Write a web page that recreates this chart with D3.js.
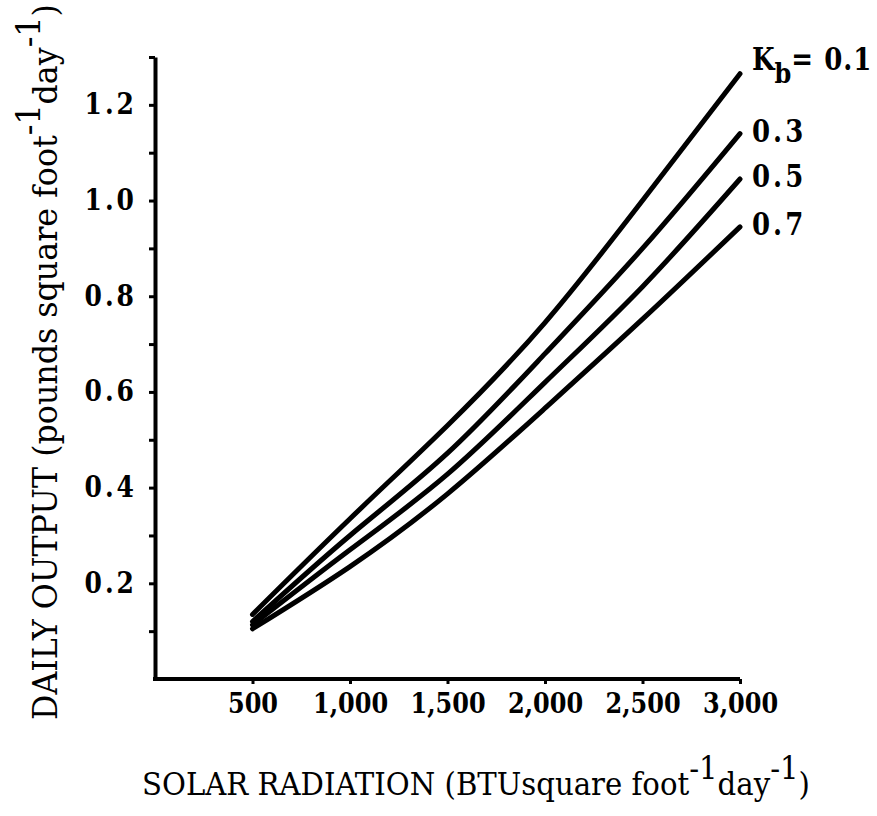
<!DOCTYPE html>
<html>
<head>
<meta charset="utf-8">
<script src="https://cdn.jsdelivr.net/npm/d3@7"></script>
<style>
  html, body { margin: 0; padding: 0; background: #fff; }
  svg { display: block; }
  text { font-family: "DejaVu Serif", "Liberation Serif", serif; fill: #000; }
</style>
</head>
<body>
<svg id="chart" width="877" height="816"></svg>
<script>
// ---- data ----
const radiation = [500, 1000, 1500, 2000, 2500, 3000];
const kbLabels = ["0.1", "0.3", "0.5", "0.7"];
const outputKb01 = [0.135, 0.335, 0.530, 0.745, 1.000, 1.265];
const outputKb03 = [0.120, 0.300, 0.472, 0.680, 0.900, 1.140];
const outputKb05 = [0.113, 0.270, 0.428, 0.620, 0.820, 1.045];
const outputKb07 = [0.105, 0.235, 0.387, 0.566, 0.752, 0.945];
const xTickValues = [500, 1000, 1500, 2000, 2500, 3000];
const xTickLabels = ["500", "1,000", "1,500", "2,000", "2,500", "3,000"];
const yTickValues = [0.2, 0.4, 0.6, 0.8, 1.0, 1.2];
const yTickLabels = ["0.2", "0.4", "0.6", "0.8", "1.0", "1.2"];
const yMinorTicks = [0.1, 0.2, 0.3, 0.4, 0.5, 0.6, 0.7, 0.8, 0.9, 1.0, 1.1, 1.2, 1.3];

const seriesList = [outputKb01, outputKb03, outputKb05, outputKb07];
const STRETCH = 1.2; // reference glyphs are taller than DejaVu's

const svg = d3.select("#chart");
const x = d3.scaleLinear().domain([0, 3000]).range([155, 740]);
const y = d3.scaleLinear().domain([0, 1.3]).range([679, 57]);

// y axis: minor ticks outward (left)
const yAxis = svg.append("g").attr("transform", `translate(${x(0)},0)`)
  .call(d3.axisLeft(y).tickValues(yMinorTicks).tickSize(6).tickSizeOuter(0).tickFormat(""));
yAxis.select(".domain").attr("stroke-width", 4).attr("stroke", "#000");
yAxis.selectAll(".tick line").attr("stroke-width", 3);

// y tick labels to the left of the axis
const yLab = svg.append("g").attr("transform", `translate(${x(0)},0)`)
  .call(d3.axisLeft(y).tickValues(yTickValues).tickSize(0).tickPadding(18)
    .tickFormat((d, i) => yTickLabels[i]));
yLab.select(".domain").remove();
yLab.selectAll("text").style("font-size", "25px").style("font-weight", "bold")
  .attr("letter-spacing", "3px").attr("dy", "0.3em")
  .attr("transform", `scale(1,${STRETCH})`)
  .attr("font-family", "DejaVu Serif").attr("fill", "#000");

// x axis
const xAxis = svg.append("g").attr("transform", `translate(0,${y(0)})`)
  .call(d3.axisBottom(x).tickValues(xTickValues).tickSize(5).tickSizeOuter(0).tickPadding(10)
    .tickFormat((d, i) => xTickLabels[i]));
xAxis.select(".domain").attr("stroke-width", 4).attr("stroke", "#000")
  .attr("d", `M${x(0) - 2},0H${x(3000)}`);
xAxis.selectAll(".tick line").attr("stroke-width", 3);
xAxis.selectAll("text").style("font-size", "24px").style("font-weight", "bold")
  .attr("y", 14 / STRETCH)
  .attr("transform", `scale(1,${STRETCH})`)
  .attr("font-family", "DejaVu Serif").attr("fill", "#000");

// curves
const line = d3.line()
  .x((d, i) => x(radiation[i]))
  .y(d => y(d))
  .curve(d3.curveNatural);

svg.append("g").selectAll("path").data(seriesList).join("path")
  .attr("d", d => line(d))
  .attr("fill", "none").attr("stroke", "#000").attr("stroke-width", 5)
  .attr("stroke-linecap", "round");

// curve labels
const lab = svg.append("g").style("font-size", "26px").style("font-weight", "bold");
seriesList.forEach((s, i) => {
  const last = s[s.length - 1];
  if (i === 0) {
    const t = lab.append("text")
      .attr("transform", `translate(752,${y(last) - 4}) scale(1,${STRETCH})`);
    t.append("tspan").text("K");
    t.append("tspan").attr("dy", 11).style("font-size", "24px").text("b");
    t.append("tspan").attr("dy", -11).text("= " + kbLabels[i]).attr("letter-spacing", "1px");
  } else {
    lab.append("text")
      .attr("transform", `translate(752,${y(last) + 8}) scale(1,${STRETCH})`)
      .attr("letter-spacing", "3px").text(kbLabels[i]);
  }
});

function addTitle(g, main) {
  g.append("tspan").text(main);
  g.append("tspan").attr("dy", "-0.5em").text("-1");
  g.append("tspan").attr("dy", "0.5em").text("day");
  g.append("tspan").attr("dy", "-0.5em").text("-1");
  g.append("tspan").attr("dy", "0.5em").text(")");
}
function fitWidth(t, target) {
  const w = t.node().getComputedTextLength();
  const fs = parseFloat(t.style("font-size"));
  t.style("font-size", (fs * target / w).toFixed(2) + "px");
}

// x axis title
const xt = svg.append("text").attr("transform", "translate(142,795) scale(1,1.08)").style("font-size", "29px");
addTitle(xt, "SOLAR RADIATION (BTUsquare foot");
fitWidth(xt, 668);

// y axis title
const yt = svg.append("text").attr("transform", "translate(57,720) rotate(-90) scale(1,1.08)").style("font-size", "29px");
addTitle(yt, "DAILY OUTPUT (pounds square foot");
fitWidth(yt, 716);
</script>
</body>
</html>
